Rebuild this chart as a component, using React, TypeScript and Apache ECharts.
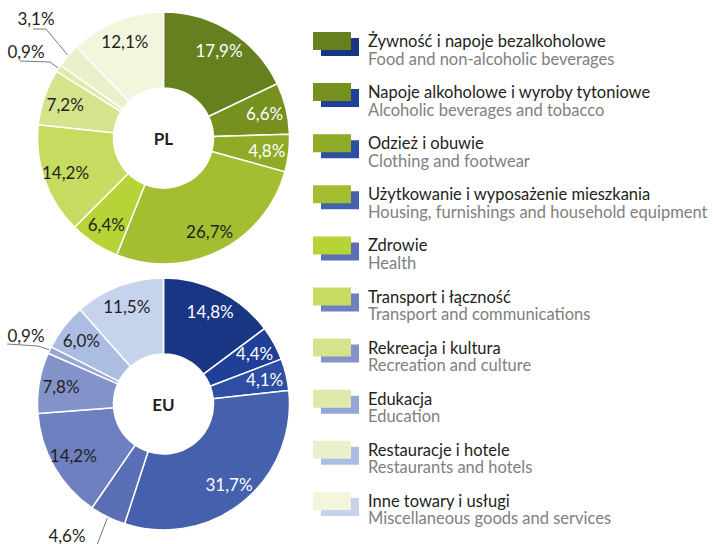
import React, { useEffect, useRef } from "react";
import * as echarts from "echarts";

const categoriesPL = [
  "Żywność i napoje bezalkoholowe",
  "Napoje alkoholowe i wyroby tytoniowe",
  "Odzież i obuwie",
  "Użytkowanie i wyposażenie mieszkania",
  "Zdrowie",
  "Transport i łączność",
  "Rekreacja i kultura",
  "Edukacja",
  "Restauracje i hotele",
  "Inne towary i usługi",
];
const categoriesEN = [
  "Food and non-alcoholic beverages",
  "Alcoholic beverages and tobacco",
  "Clothing and footwear",
  "Housing, furnishings and household equipment",
  "Health",
  "Transport and communications",
  "Recreation and culture",
  "Education",
  "Restaurants and hotels",
  "Miscellaneous goods and services",
];
const plValues = [17.9, 6.6, 4.8, 26.7, 6.4, 14.2, 7.2, 0.9, 3.1, 12.1];
const euValues = [14.8, 4.4, 4.1, 31.7, 4.6, 14.2, 7.8, 0.9, 6.0, 11.5];
const plColors = ["#66801f", "#77911f", "#8fab27", "#a3be30", "#b6d435", "#c6db5f", "#d4e38c", "#dfe9aa", "#eaf0c9", "#f3f6dd"];
const euColors = ["#183684", "#1f3f98", "#2d4ea3", "#4561ad", "#5a6fb5", "#6e80c0", "#8393ca", "#97a7d4", "#acbde2", "#c6d3ed"];
const plWhiteLabels = [0, 1, 2];
const euWhiteLabels = [0, 1, 2, 3];

const FONT = "Lato";
const fmt = (v: number) => v.toFixed(1).replace(".", ",") + "%";

type OutSpec = { x: number; y: number; pts: number[][] };
const plOutside: Record<number, OutSpec> = {
  7: { x: 26, y: 51, pts: [[50, 62], [20, 61]] },
  8: { x: 36, y: 18, pts: [[46, 29], [33, 29]] },
};
const euOutside: Record<number, OutSpec> = {
  4: { x: 67, y: 535, pts: [[97, 545], [97, 545]] },
  7: { x: 26, y: 335, pts: [[38, 346], [7, 344]] },
};

function buildSeries(values: number[], colors: string[], white: number[], outside: Record<number, OutSpec>, cy: number) {
  const cx = 163.5;
  const main = {
    type: "pie",
    center: [cx, cy],
    radius: [50, 126],
    startAngle: 90,
    clockwise: true,
    silent: true,
    avoidLabelOverlap: false,
    label: { show: false },
    labelLine: { show: false },
    itemStyle: { borderColor: "#ffffff", borderWidth: 1.5 },
    data: values.map((v, i) => ({
      value: v,
      name: categoriesEN[i],
      itemStyle: { color: colors[i] },
      label: outside[i]
        ? { show: true, position: "outside", formatter: fmt(v), color: "#231f20", fontSize: 17, fontFamily: FONT }
        : { show: false },
      labelLine: outside[i]
        ? { show: true, length: 10, length2: 10, lineStyle: { color: "#7a7a7a", width: 1 } }
        : { show: false },
    })),
    labelLayout: (p: any) => {
      const s = outside[p.dataIndex];
      if (!s) return {};
      const start = p.labelLinePoints ? p.labelLinePoints[0] : s.pts[0];
      return {
        x: s.x,
        y: s.y,
        align: "center",
        verticalAlign: "middle",
        labelLinePoints: [start, s.pts[0], s.pts[1]],
      };
    },
  };
  const overlay = {
    type: "pie",
    center: [cx, cy],
    radius: [76, 126],
    startAngle: 90,
    clockwise: true,
    silent: true,
    avoidLabelOverlap: false,
    itemStyle: { color: "rgba(0,0,0,0)", borderWidth: 0 },
    labelLine: { show: false },
    data: values.map((v, i) => ({
      value: v,
      name: categoriesEN[i],
      label: {
        show: !outside[i],
        position: "inside",
        formatter: fmt(v),
        color: white.includes(i) ? "#ffffff" : "#231f20",
        fontSize: 17,
        fontFamily: FONT,
      },
    })),
  };
  return [main, overlay];
}

export default function App() {
  const ref = useRef<HTMLDivElement>(null);
  useEffect(() => {
    if (!ref.current) return;
    const chart = echarts.init(ref.current, null, { renderer: "svg" });
    const graphics: any[] = [];
    categoriesPL.forEach((pl, i) => {
      const top = 32 + i * 51.1;
      graphics.push({ type: "rect", shape: { x: 321, y: top + 6, width: 38, height: 18 }, style: { fill: euColors[i] } });
      graphics.push({ type: "rect", shape: { x: 313, y: top, width: 38, height: 18 }, style: { fill: plColors[i] } });
      graphics.push({
        type: "text",
        x: 368,
        y: top + 9,
        style: { text: pl, fill: "#231f20", font: `16.5px ${FONT}`, lineHeight: 15, verticalAlign: "middle" },
      });
      graphics.push({
        type: "text",
        x: 368,
        y: top + 26.5,
        style: { text: categoriesEN[i], fill: "#808080", font: `16.5px ${FONT}`, lineHeight: 15, verticalAlign: "middle" },
      });
    });
    graphics.push({
      type: "text", x: 163.5, y: 138,
      style: { text: "PL", fill: "#231f20", font: `bold 17px ${FONT}`, align: "center", verticalAlign: "middle" },
      z: 10,
    });
    graphics.push({
      type: "text", x: 163.5, y: 404,
      style: { text: "EU", fill: "#231f20", font: `bold 17px ${FONT}`, align: "center", verticalAlign: "middle" },
      z: 10,
    });
    chart.setOption({
      animation: false,
      backgroundColor: "#ffffff",
      series: [
        ...buildSeries(plValues, plColors, plWhiteLabels, plOutside, 138),
        ...buildSeries(euValues, euColors, euWhiteLabels, euOutside, 404),
      ],
      graphic: graphics,
    });
    return () => chart.dispose();
  }, []);
  return <div ref={ref} style={{ position: "absolute", left: 0, top: 0, width: 713, height: 544 }} />;
}
